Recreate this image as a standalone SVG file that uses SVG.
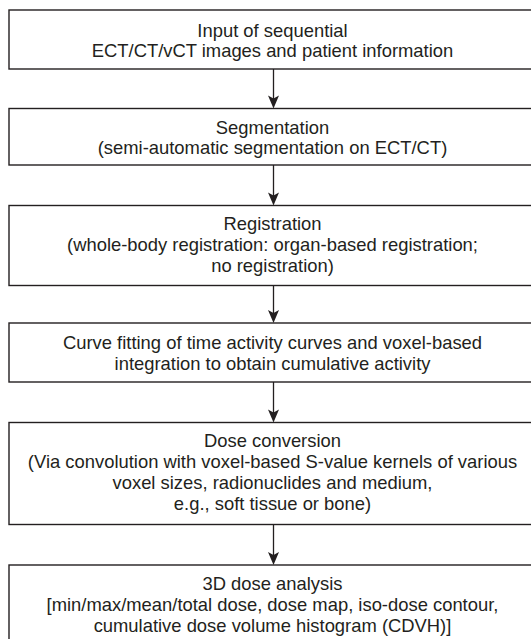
<svg xmlns="http://www.w3.org/2000/svg" width="531" height="639" viewBox="0 0 531 639">
<style>
.box{fill:#fff;stroke:#231f20;stroke-width:1.4}
.t{font-family:"Liberation Sans",Arial,sans-serif;font-size:18.4px;fill:#231f20;text-anchor:middle}
.con{stroke:#231f20;stroke-width:1.3;fill:none}
.ah{fill:#231f20}
</style>
<rect width="531" height="639" fill="#fff"/>
<g id="connectors">
<line class="con" x1="273.5" y1="69" x2="273.5" y2="100"/>
<path class="ah" d="M268,95.5 L273.5,108.5 L279,95.5 L273.5,98.5 Z"/>
<line class="con" x1="273.5" y1="165" x2="273.5" y2="198"/>
<path class="ah" d="M268,192.5 L273.5,205.5 L279,192.5 L273.5,195.5 Z"/>
<line class="con" x1="273.5" y1="285.5" x2="273.5" y2="316"/>
<path class="ah" d="M268,310 L273.5,323 L279,310 L273.5,313 Z"/>
<line class="con" x1="273.5" y1="382" x2="273.5" y2="415"/>
<path class="ah" d="M268,409.5 L273.5,422.5 L279,409.5 L273.5,412.5 Z"/>
<line class="con" x1="273.5" y1="524.5" x2="273.5" y2="558"/>
<path class="ah" d="M268,552 L273.5,565 L279,552 L273.5,555 Z"/>
</g>
<g id="n1">
<rect class="box" x="9" y="10" width="530" height="59"/>
<text class="t" x="272.5" y="36.5">Input of sequential</text>
<text class="t" x="272.5" y="57">ECT/CT/vCT images and patient information</text>
</g>
<g id="n2">
<rect class="box" x="9" y="108.5" width="530" height="56.5"/>
<text class="t" x="272.5" y="133.5">Segmentation</text>
<text class="t" x="272.5" y="154">(semi-automatic segmentation on ECT/CT)</text>
</g>
<g id="n3">
<rect class="box" x="9" y="205.5" width="530" height="80"/>
<text class="t" x="272.5" y="230">Registration</text>
<text class="t" x="272.5" y="251">(whole-body registration: organ-based registration;</text>
<text class="t" x="272.5" y="272">no registration)</text>
</g>
<g id="n4">
<rect class="box" x="9" y="323" width="530" height="59"/>
<text class="t" x="272.5" y="348.5">Curve fitting of time activity curves and voxel-based</text>
<text class="t" x="272.5" y="369.5">integration to obtain cumulative activity</text>
</g>
<g id="n5">
<rect class="box" x="9" y="422.5" width="530" height="102"/>
<text class="t" x="272.5" y="447">Dose conversion</text>
<text class="t" x="272.5" y="468">(Via convolution with voxel-based S-value kernels of various</text>
<text class="t" x="272.5" y="489">voxel sizes, radionuclides and medium,</text>
<text class="t" x="272.5" y="510">e.g., soft tissue or bone)</text>
</g>
<g id="n6">
<rect class="box" x="9" y="565" width="530" height="84"/>
<text class="t" x="272.5" y="589.5">3D dose analysis</text>
<text class="t" x="272.5" y="610.5">[min/max/mean/total dose, dose map, iso-dose contour,</text>
<text class="t" x="272.5" y="631.5">cumulative dose volume histogram (CDVH)]</text>
</g>
</svg>
